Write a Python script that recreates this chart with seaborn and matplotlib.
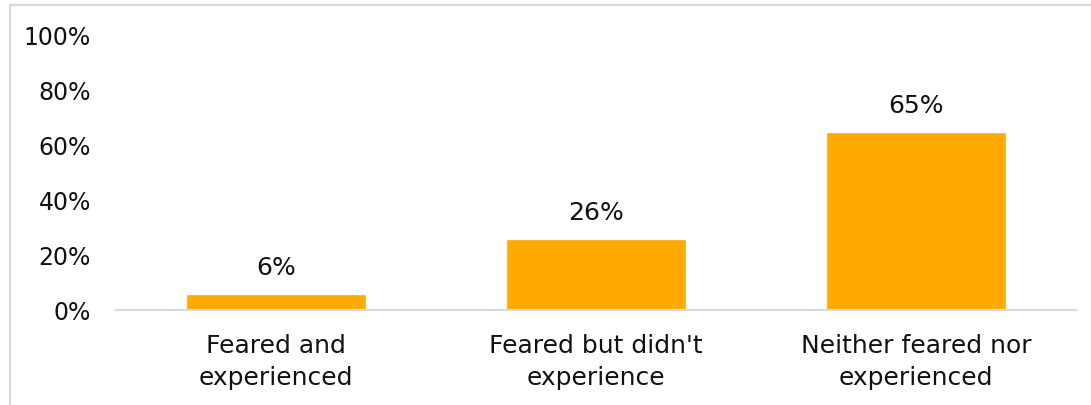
import matplotlib
matplotlib.use("Agg")
import matplotlib.pyplot as plt
import seaborn as sns
import pandas as pd
from matplotlib.patches import Rectangle

categories = ["Feared and\nexperienced", "Feared but didn't\nexperience", "Neither feared nor\nexperienced"]
shares = [6, 26, 65]
y_ticks = [0, 20, 40, 60, 80, 100]
y_tick_labels = ["0%", "20%", "40%", "60%", "80%", "100%"]

sns.set_theme(style="white")
plt.rcParams["font.family"] = ["DejaVu Sans"]

df = pd.DataFrame({"category": categories, "share": shares})

fig = plt.figure(figsize=(10.91, 4.05), dpi=100)
ax = fig.add_axes([116 / 1091, 95 / 405, 960 / 1091, 274 / 405])

sns.barplot(data=df, x="category", y="share", color="#FFAA00", saturation=1,
            width=0.56, ax=ax)

FS = 18
for c in ax.containers:
    ax.bar_label(c, labels=[f"{v:.0f}%" for v in shares], padding=10,
                 fontsize=FS, color="#111111")

ax.set_ylim(0, 100)
ax.set_yticks(y_ticks)
ax.set_yticklabels(y_tick_labels, fontsize=17, color="#111111")
ax.tick_params(axis="y", length=0, pad=18)
ax.tick_params(axis="x", length=0, pad=17.5, labelsize=FS, labelcolor="#111111")
for lbl in ax.get_xticklabels():
    lbl.set_linespacing(1.4)
ax.set_xlabel("")
ax.set_ylabel("")

for side in ["top", "right", "left"]:
    ax.spines[side].set_visible(False)
ax.spines["bottom"].set_color("#D9D9D9")
ax.spines["bottom"].set_linewidth(1.5)

# chart area frame
fig.patches.append(Rectangle((10 / 1091, -0.05), 1.2, 1.05 - 5 / 405,
                             transform=fig.transFigure, fill=False,
                             edgecolor="#D9D9D9", linewidth=1.5))

fig.savefig("out.png", dpi=100)
